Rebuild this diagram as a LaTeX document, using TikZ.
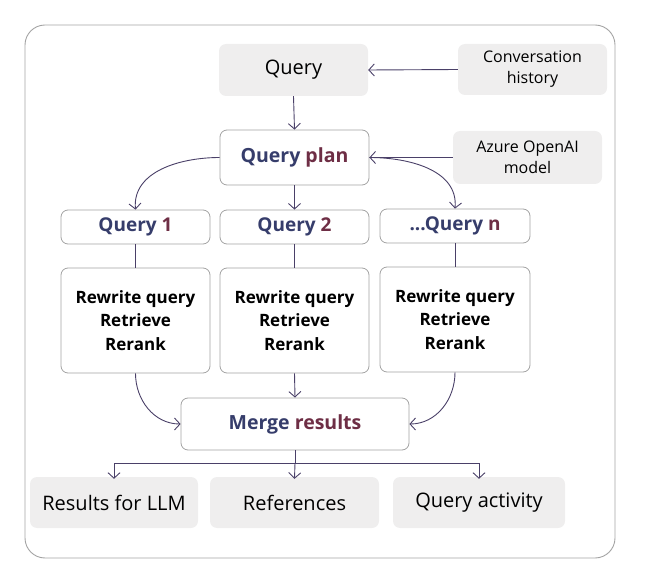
\documentclass[tikz,border=0pt]{standalone}
\usepackage{fontspec}
\setmainfont{Open Sans}
\usetikzlibrary{arrows.meta}
\definecolor{navy}{HTML}{363D6B}
\definecolor{maroon}{HTML}{6E2E45}
\definecolor{conn}{HTML}{4A4068}
\definecolor{grayfill}{HTML}{EFEEEE}
\definecolor{boxline}{HTML}{A3A3A3}
\tikzset{
  graybox/.style={fill=grayfill, draw=none, rounded corners=7pt, align=center, inner sep=0pt},
  whitebox/.style={fill=white, draw=boxline, line width=0.8pt, rounded corners=7pt, align=center, inner sep=0pt},
  conline/.style={draw=conn, line width=0.9pt},
  arr/.style={conline, -{Straight Barb[length=5.5pt,width=12pt,line width=0.9pt]}},
  titlefont/.style={font=\fontsize{19.5}{22}\selectfont\bfseries},
  procfont/.style={font=\fontsize{17}{23.5}\selectfont\bfseries},
  outfont/.style={font=\fontsize{20}{22}\selectfont},
  sidefont/.style={font=\fontsize{16}{21}\selectfont},
}
\begin{document}
\begin{tikzpicture}[x=1pt,y=-1pt]
\useasboundingbox (0,0) rectangle (667,588);
\draw[draw=boxline, line width=0.9pt, rounded corners=20pt] (25,25) rectangle (615,558);

% top row
\node[graybox, minimum width=149pt, minimum height=52pt, outfont] (query) at (293.5,70) {Query};
\node[graybox, minimum width=149pt, minimum height=51pt, sidefont] (conv) at (532.5,69.5) {Conversation\\history};
\node[whitebox, minimum width=149pt, minimum height=55pt, titlefont] (plan) at (294.5,157.5) {\textcolor{navy}{Query} \textcolor{maroon}{plan}};
\node[graybox, minimum width=149pt, minimum height=53pt, sidefont] (azure) at (527.5,157.5) {Azure OpenAI\\model};

% query row
\node[whitebox, minimum width=149pt, minimum height=34pt, font=\fontsize{19}{22}\selectfont\bfseries] (q1) at (135.5,227) {\textcolor{navy}{Query} \textcolor{maroon}{1}};
\node[whitebox, minimum width=149pt, minimum height=34pt, font=\fontsize{19}{22}\selectfont\bfseries] (q2) at (294.5,227) {\textcolor{navy}{Query} \textcolor{maroon}{2}};
\node[whitebox, minimum width=150pt, minimum height=34pt, font=\fontsize{19}{22}\selectfont\bfseries] (qn) at (455,226) {\textcolor{navy}{...Query} \textcolor{maroon}{n}};

% process row
\node[whitebox, minimum width=149pt, minimum height=105pt, procfont] (p1) at (135.5,320.5) {Rewrite query\\Retrieve\\Rerank};
\node[whitebox, minimum width=149pt, minimum height=105pt, procfont] (p2) at (294.5,320.5) {Rewrite query\\Retrieve\\Rerank};
\node[whitebox, minimum width=150pt, minimum height=105pt, procfont] (pn) at (455,319.5) {Rewrite query\\Retrieve\\Rerank};

% merge
\node[whitebox, minimum width=228pt, minimum height=52pt, titlefont] (merge) at (295,424) {\textcolor{navy}{Merge} \textcolor{maroon}{results}};

% outputs
\node[graybox, minimum width=168pt, minimum height=51pt, outfont] (llm) at (114,502.5) {Results for LLM};
\node[graybox, minimum width=169pt, minimum height=51pt, outfont] (refs) at (294.5,502.5) {References};
\node[graybox, minimum width=172pt, minimum height=51pt, outfont] (act) at (479,502.5) {Query activity};

% connectors
\draw[arr] (conv.west) -- (query.east);
\draw[arr] (query.south) -- (plan.north);
\draw[arr] (azure.west) -- (plan.east);
\draw[arr] (plan.west) to[out=180, in=95] (q1.north);
\draw[arr] (plan.south) -- (q2.north);
\draw[arr] (plan.east) to[out=0, in=85] (qn.north);
\draw[conline] (q1.south) -- (p1.north);
\draw[conline] (q2.south) -- (p2.north);
\draw[conline] (qn.south) -- (pn.north);
\draw[arr] (p1.south) to[out=-90, in=180] (merge.west);
\draw[arr] (p2.south) -- (merge.north);
\draw[arr] (pn.south) to[out=-90, in=0] (merge.east);
\coordinate (split) at (295,463);
\draw[conline] (merge.south) -- (split);
\draw[arr] (split) -| ([yshift=-2pt]llm.north);
\draw[arr] (split) -- ([yshift=-2pt]refs.north);
\draw[arr] (split) -| ([yshift=-2pt]act.north);
\end{tikzpicture}
\end{document}
